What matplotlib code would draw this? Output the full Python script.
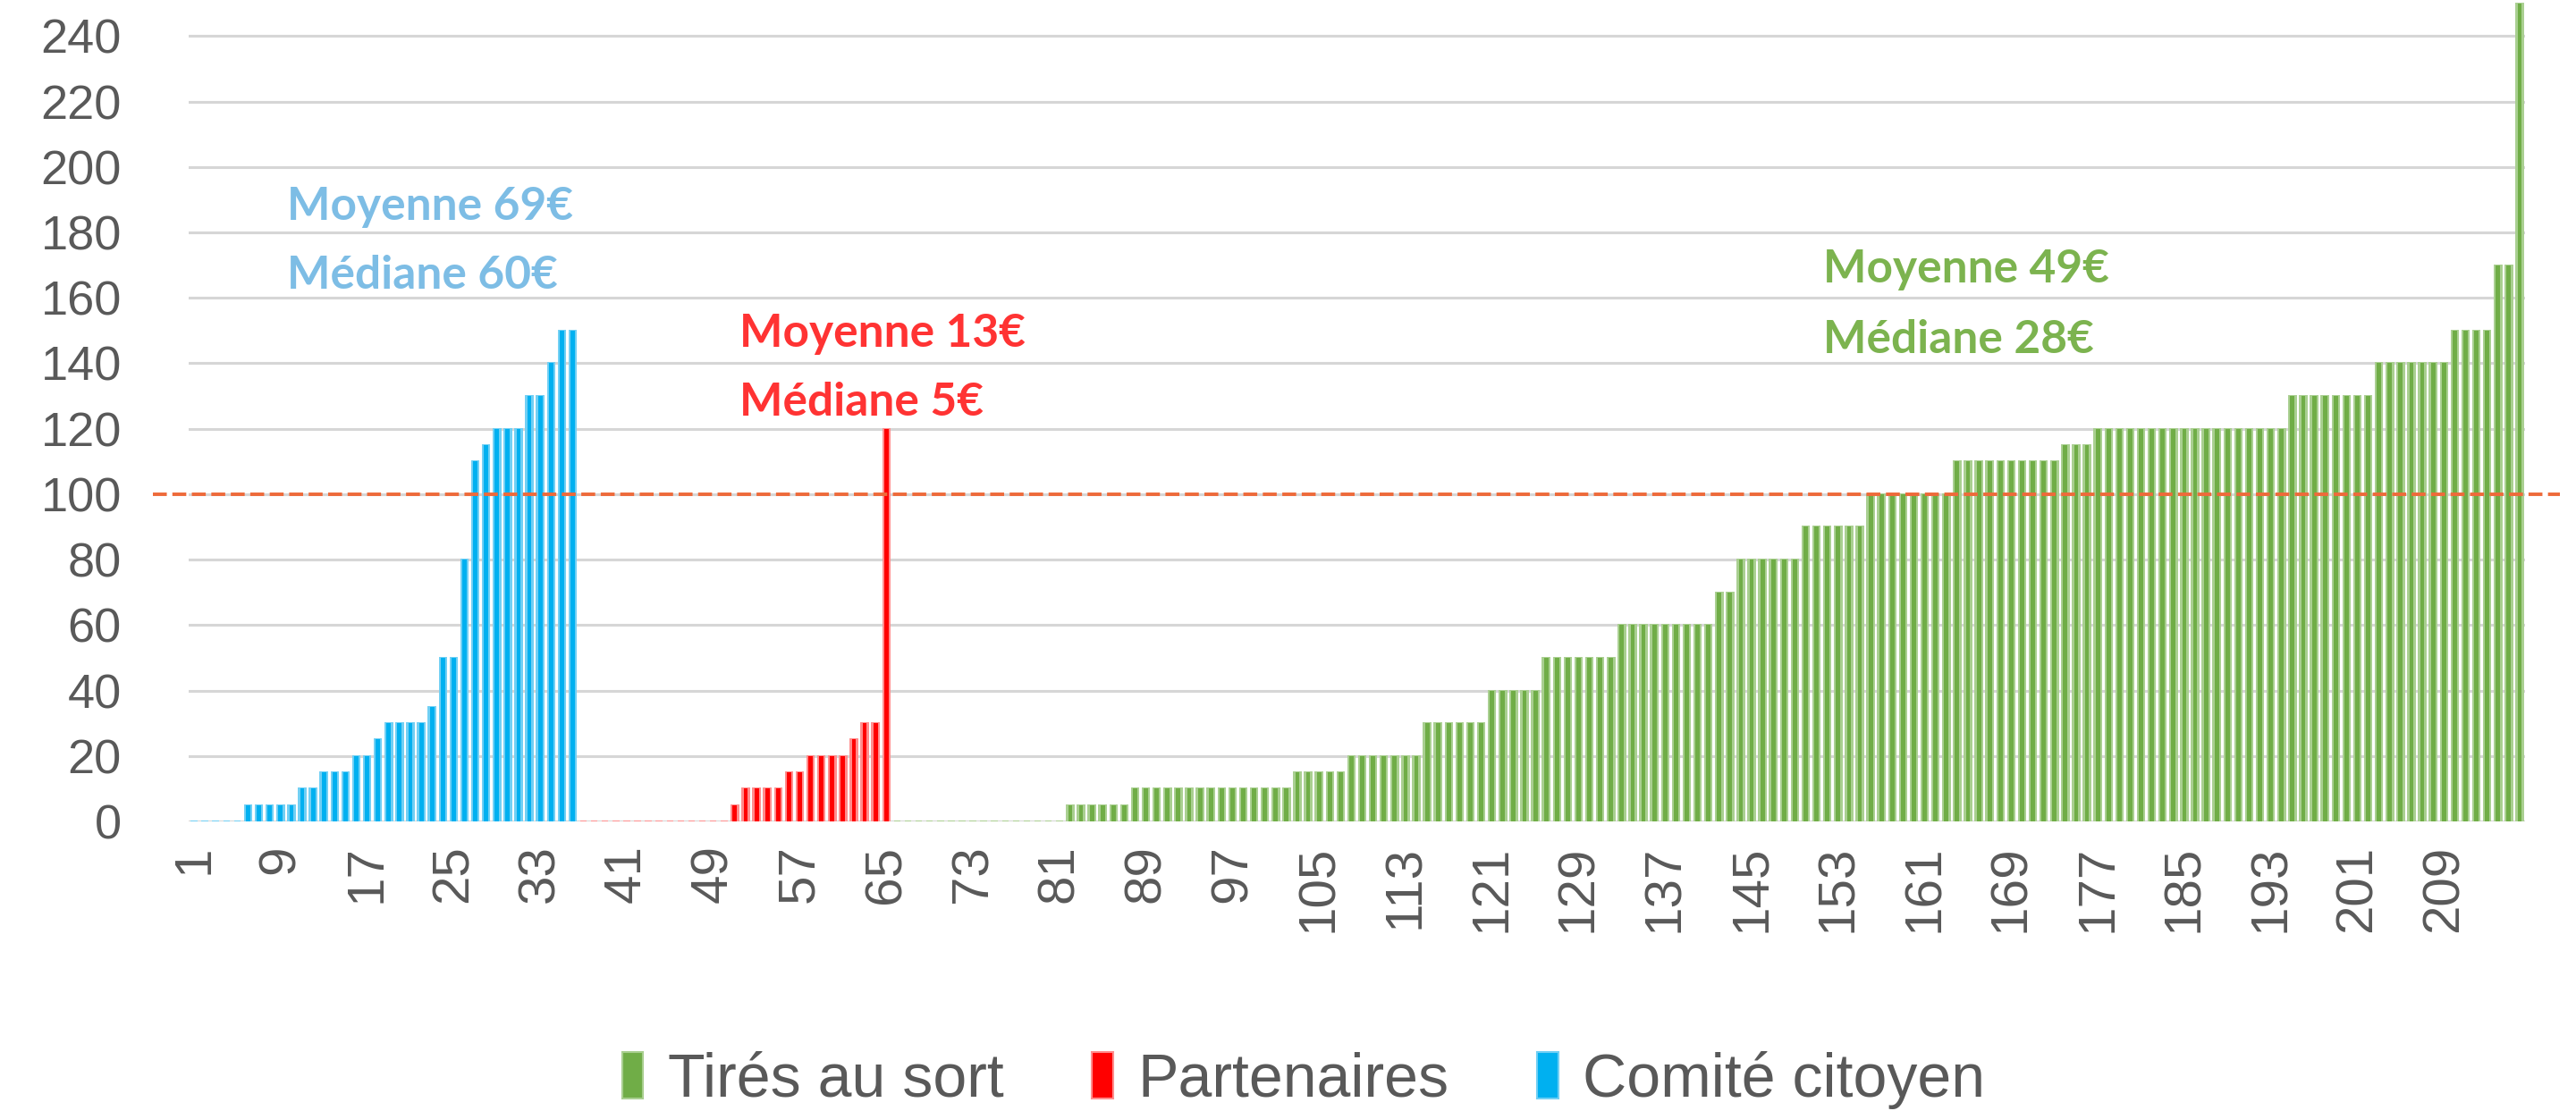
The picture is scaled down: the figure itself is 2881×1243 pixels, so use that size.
import matplotlib
matplotlib.use("Agg")
import matplotlib.pyplot as plt
import matplotlib.transforms as mtransforms
from matplotlib.patches import Patch

# ---------------- data ----------------
categories = list(range(1, 217))

comite_values = [0, 0, 0, 0, 0, 5, 5, 5, 5, 5, 10, 10, 15, 15, 15, 20, 20, 25,
                 30, 30, 30, 30, 35, 50, 50, 80, 110, 115, 120, 120, 120, 130,
                 130, 140, 150, 150]

partenaires_values = [0, 0, 0, 0, 0, 0, 0, 0, 0, 0, 0, 0, 0, 0,
                      5, 10, 10, 10, 10, 15, 15, 20, 20, 20, 20, 25, 30, 30, 120]

tires_values = [0, 0, 0, 0, 0, 0, 0, 0, 0, 0, 0, 0, 0, 0, 0, 0,
                5, 5, 5, 5, 5, 5,
                10, 10, 10, 10, 10, 10, 10, 10, 10, 10, 10, 10, 10, 10, 10,
                15, 15, 15, 15, 15,
                20, 20, 20, 20, 20, 20, 20,
                30, 30, 30, 30, 30, 30,
                40, 40, 40, 40, 40,
                50, 50, 50, 50, 50, 50, 50,
                60, 60, 60, 60, 60, 60, 60, 60, 60,
                70, 70,
                80, 80, 80, 80, 80, 80,
                90, 90, 90, 90, 90, 90,
                100, 100, 100, 100, 100, 100, 100, 100,
                110, 110, 110, 110, 110, 110, 110, 110, 110, 110,
                115, 115, 115,
                120, 120, 120, 120, 120, 120, 120, 120, 120, 120, 120, 120,
                120, 120, 120, 120, 120, 120,
                130, 130, 130, 130, 130, 130, 130, 130,
                140, 140, 140, 140, 140, 140, 140,
                150, 150, 150, 150,
                170, 170,
                250]

series_names = ["Tirés au sort", "Partenaires", "Comité citoyen"]

xtick_positions = [1, 9, 17, 25, 33, 41, 49, 57, 65, 73, 81, 89, 97, 105, 113,
                   121, 129, 137, 145, 153, 161, 169, 177, 185, 193, 201, 209]
xtick_labels = [str(v) for v in xtick_positions]
ytick_values = [0, 20, 40, 60, 80, 100, 120, 140, 160, 180, 200, 220, 240]
reference_level = 100

annotations = [
    ("Moyenne 69€", "Médiane 60€", 9.6, 183.8, 162.8, "#7DBDE5"),
    ("Moyenne 13€", "Médiane 5€", 51.4, 145.0, 124.0, "#FF3333"),
    ("Moyenne 49€", "Médiane 28€", 151.6, 164.6, 143.0, "#7CB34F"),
]

# ---------------- style ----------------
GREEN, GREEN_L = "#70AD47", "#A9CF90"
RED, RED_L = "#FF0000", "#FF8C8C"
BLUE, BLUE_L = "#00B0F0", "#70CFF4"
TXT = "#595959"
GRID = "#D6D6D6"

W, H = 2881, 1243
fig = plt.figure(figsize=(W / 100, H / 100), dpi=100)
ax = fig.add_axes([211 / W, (H - 919) / H, (2824 - 211) / W, 919 / H])

n_c = len(comite_values)
n_p = len(partenaires_values)
x_c = categories[:n_c]
x_p = categories[n_c:n_c + n_p]
x_t = categories[n_c + n_p:]

for xs, vals, dark, light in [(x_c, comite_values, BLUE, BLUE_L),
                              (x_p, partenaires_values, RED, RED_L),
                              (x_t, tires_values, GREEN, GREEN_L)]:
    ax.bar(xs, vals, width=0.62, color=light, edgecolor=light, linewidth=1.4, zorder=2)
    ax.bar(xs, vals, width=0.4, color=dark, linewidth=0, zorder=3)

ax.set_xlim(0.5, 216.5)
ax.set_ylim(0, 251)
ax.set_yticks(ytick_values)
ax.set_yticklabels([str(v) for v in ytick_values])
ax.yaxis.grid(True, color=GRID, linewidth=2.2, zorder=0)
ax.set_axisbelow(True)
for s in ax.spines.values():
    s.set_visible(False)

ax.set_xticks(xtick_positions)
ax.set_xticklabels(xtick_labels, rotation=90, fontsize=42, color=TXT,
                   family=["Liberation Sans", "DejaVu Sans"])
for lab in ax.get_yticklabels():
    lab.set_fontsize(39)
    lab.set_color(TXT)
    lab.set_family(["Liberation Sans", "DejaVu Sans"])
ax.tick_params(axis="both", length=0)
ax.tick_params(axis="x", pad=19)
ax.tick_params(axis="y", pad=54)

trans = mtransforms.blended_transform_factory(ax.transAxes, ax.transData)
ax.plot([-0.0153, 1.0149], [reference_level, reference_level], transform=trans,
        clip_on=False, color="#EE6A3A", linewidth=2.8, dashes=(4.0, 1.6), zorder=5)

for l1, l2, xk, y1, y2, col in annotations:
    for txt, yy in [(l1, y1), (l2, y2)]:
        ax.text(xk, yy, txt, color=col, fontsize=37, fontweight="bold",
                family=["Lato", "Liberation Sans", "DejaVu Sans"],
                ha="left", va="baseline", zorder=6)

handles = [Patch(facecolor=GREEN, edgecolor=GREEN_L, linewidth=1.5),
           Patch(facecolor=RED, edgecolor=RED_L, linewidth=1.5),
           Patch(facecolor=BLUE, edgecolor=BLUE_L, linewidth=1.5)]
leg = fig.legend(handles, series_names, loc="center", bbox_to_anchor=(0.506, 0.028),
                 ncol=3, frameon=False, handlelength=0.35,
                 handleheight=0.8, handletextpad=0.4, columnspacing=1.45,
                 prop={"family": ["Liberation Sans", "DejaVu Sans"], "size": 49})
for t in leg.get_texts():
    t.set_color(TXT)

fig.savefig("out.png", dpi=100)
